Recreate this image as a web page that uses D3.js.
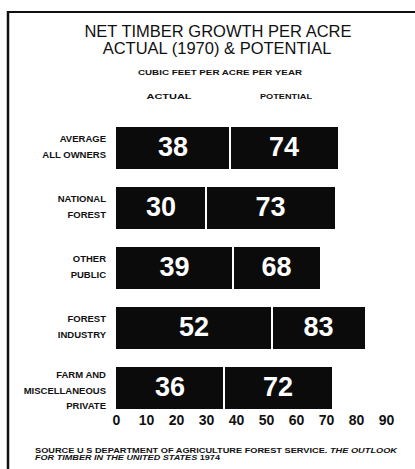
<!DOCTYPE html>
<html>
<head>
<meta charset="utf-8">
<script src="https://cdn.jsdelivr.net/npm/d3@7"></script>
<style>
  html, body { margin: 0; padding: 0; background: #fff; }
  svg { display: block; }
  text { font-family: "Liberation Sans", Arial, Helvetica, sans-serif; fill: #111; }
</style>
</head>
<body>
<svg id="chart" width="415" height="469"></svg>
<script>
// Owner categories (each may wrap onto several lines)
const categories = [
  ["AVERAGE", "ALL OWNERS"],
  ["NATIONAL", "FOREST"],
  ["OTHER", "PUBLIC"],
  ["FOREST", "INDUSTRY"],
  ["FARM AND", "MISCELLANEOUS", "PRIVATE"]
];
// Net growth, cubic feet per acre per year
const actual1970 = [38, 30, 39, 52, 36];
const potential = [74, 73, 68, 83, 72];
const tickValues = [0, 10, 20, 30, 40, 50, 60, 70, 80, 90];

const svg = d3.select("#chart");
const W = 415, H = 469;

svg.append("rect").attr("width", W).attr("height", H).attr("fill", "#fff");

// Frame: heavy rule across the top and down the left side
svg.append("line").attr("x1", 7).attr("x2", W).attr("y1", 12).attr("y2", 12)
  .attr("stroke", "#111").attr("stroke-width", 2);
svg.append("line").attr("x1", 8).attr("x2", 8).attr("y1", 11).attr("y2", H)
  .attr("stroke", "#111").attr("stroke-width", 2.5);

// Titles
svg.append("text").attr("x", 218).attr("y", 37).attr("text-anchor", "middle")
  .attr("font-size", 16.5).text("NET TIMBER GROWTH PER ACRE");
svg.append("text").attr("x", 217).attr("y", 54).attr("text-anchor", "middle")
  .attr("font-size", 16.5).text("ACTUAL (1970) & POTENTIAL");
svg.append("text").attr("x", 220).attr("y", 75).attr("text-anchor", "middle")
  .attr("font-size", 8).attr("font-weight", "bold")
  .attr("textLength", 164).attr("lengthAdjust", "spacingAndGlyphs")
  .text("CUBIC FEET PER ACRE PER YEAR");

const x = d3.scaleLinear().domain([0, 90]).range([116, 386]);
const keys = categories.map((d, i) => i);
const y = d3.scaleBand().domain(keys).range([127, 409]).paddingInner(0.3).paddingOuter(0);

// Column headings
svg.append("text").attr("x", 169).attr("y", 99).attr("text-anchor", "middle")
  .attr("font-size", 8).attr("font-weight", "bold")
  .attr("textLength", 45).attr("lengthAdjust", "spacingAndGlyphs").text("ACTUAL");
svg.append("text").attr("x", 286).attr("y", 99).attr("text-anchor", "middle")
  .attr("font-size", 8).attr("font-weight", "bold")
  .attr("textLength", 52).attr("lengthAdjust", "spacingAndGlyphs").text("POTENTIAL");

const rows = svg.append("g").selectAll("g").data(keys).join("g");

// Actual segment from zero, potential segment continues to the potential value
const gap = 2;
rows.append("rect")
  .attr("x", x(0))
  .attr("y", i => y(i))
  .attr("width", i => x(actual1970[i]) - x(0) - gap / 2)
  .attr("height", y.bandwidth())
  .attr("fill", "#0b0b0b");
rows.append("rect")
  .attr("x", i => x(actual1970[i]) + gap / 2)
  .attr("y", i => y(i))
  .attr("width", i => x(potential[i]) - x(actual1970[i]) - gap / 2)
  .attr("height", y.bandwidth())
  .attr("fill", "#0b0b0b");

// Value labels inside each segment
rows.append("text")
  .attr("x", i => (x(0) + x(actual1970[i])) / 2)
  .attr("y", i => y(i) + y.bandwidth() / 2 + 8)
  .attr("text-anchor", "middle")
  .attr("font-size", 27).attr("font-weight", "bold")
  .style("fill", "#fff")
  .text(i => actual1970[i]);
rows.append("text")
  .attr("x", i => (x(actual1970[i]) + x(potential[i])) / 2)
  .attr("y", i => y(i) + y.bandwidth() / 2 + 8)
  .attr("text-anchor", "middle")
  .attr("font-size", 27).attr("font-weight", "bold")
  .style("fill", "#fff")
  .text(i => potential[i]);

// Category labels, right-aligned against the bars
rows.each(function (i) {
  const lines = categories[i];
  const cy = y(i) + y.bandwidth() / 2;
  const first = cy - 6 - (lines.length - 2) * 4;
  const t = d3.select(this).append("text")
    .attr("text-anchor", "end")
    .attr("font-size", 9.5).attr("font-weight", "bold");
  lines.forEach((ln, k) => {
    t.append("tspan").attr("x", 106).attr("y", first + k * 15.5).text(ln);
  });
});

// Value axis along the bottom
const axis = svg.append("g").attr("transform", "translate(0,410)")
  .call(d3.axisBottom(x).tickValues(tickValues).tickSize(0).tickPadding(5).tickFormat(d3.format("d")));
axis.select(".domain").remove();
axis.selectAll("text")
  .attr("font-family", "Liberation Sans, Arial, sans-serif")
  .attr("font-size", 14).attr("font-weight", "bold").style("fill", "#111");

// Source note
const src = svg.append("text").attr("x", 35).attr("y", 453)
  .attr("font-size", 7).attr("font-weight", "bold")
  .attr("textLength", 362).attr("lengthAdjust", "spacingAndGlyphs");
src.append("tspan").text("SOURCE   U S  DEPARTMENT OF AGRICULTURE  FOREST SERVICE. ");
src.append("tspan").attr("font-style", "italic").text("THE OUTLOOK");
const src2 = svg.append("text").attr("x", 35).attr("y", 460)
  .attr("font-size", 7).attr("font-weight", "bold")
  .attr("textLength", 185).attr("lengthAdjust", "spacingAndGlyphs");
src2.append("tspan").attr("font-style", "italic").text("FOR TIMBER IN THE UNITED STATES");
src2.append("tspan").text("  1974");
</script>
</body>
</html>
